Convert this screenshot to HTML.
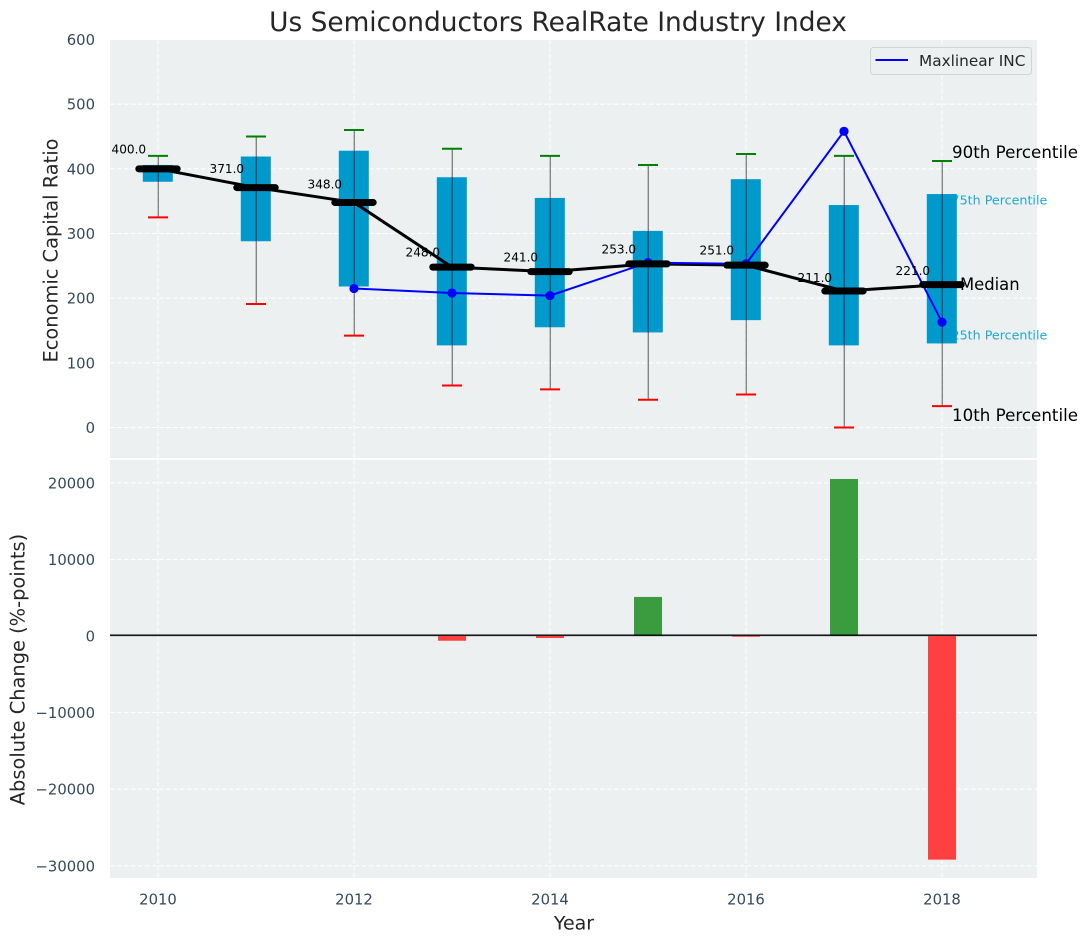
<!DOCTYPE html>
<html><head><meta charset="utf-8">
<style>
html,body{margin:0;padding:0;background:#fff;}
svg{display:block;font-family:"DejaVu Sans","Liberation Sans",sans-serif;}
</style></head>
<body>
<svg id="chart" xmlns="http://www.w3.org/2000/svg" width="1087" height="942" viewBox="0 0 1087 942">
<text x="558" y="31" font-size="26.4" fill="#262626" text-anchor="middle">Us Semiconductors RealRate Industry Index</text>
<rect x="110" y="40" width="927" height="418" fill="#ecf0f1"/>
<rect x="110" y="460" width="927" height="418" fill="#ecf0f1"/>
<text transform="translate(57.5,250.5) rotate(-90)" font-size="19.4" fill="#262626" text-anchor="middle">Economic Capital Ratio</text>
<text transform="translate(24.5,669.5) rotate(-90)" font-size="19.4" fill="#262626" text-anchor="middle">Absolute Change (%-points)</text>
<text x="574" y="929.5" font-size="19" fill="#262626" text-anchor="middle">Year</text>
<g id="grid"></g>
<g id="ticks"></g>
<text x="951.5" y="204.5" font-size="12.7" fill="#0099cc" fill-opacity="0.85">75th Percentile</text>
<text x="951.5" y="339.5" font-size="12.7" fill="#0099cc" fill-opacity="0.85">25th Percentile</text>
<g id="boxes"></g>
<g id="whiskers"></g>
<g id="trend"></g>
<g id="company"></g>
<g id="medians"></g>
<g id="valueLabels"></g>
<line x1="110" x2="1037" y1="635.7" y2="635.7" stroke="#c2c8cb" stroke-width="2.2"/>
<g id="bars"></g>
<line x1="110" x2="1037" y1="635.2" y2="635.2" stroke="#000" stroke-width="1.3"/>
<text x="952" y="158" font-size="16.7" fill="#000">90th Percentile</text>
<text x="960" y="290" font-size="16.4" fill="#000">Median</text>
<text x="952" y="421" font-size="16.7" fill="#000">10th Percentile</text>
<g>
<rect x="870.5" y="47.5" width="161" height="27" rx="3" fill="#ecf0f1" fill-opacity="0.8" stroke="#cccccc" stroke-opacity="0.8"/>
<line x1="875.5" x2="908" y1="60" y2="60" stroke="#0000ff" stroke-width="2"/>
<text x="919" y="66" font-size="15.3" fill="#262626">Maxlinear INC</text>
</g>
</svg>
<script>
const years = [2010, 2011, 2012, 2013, 2014, 2015, 2016, 2017, 2018];
const p90 = [420, 450, 460, 431, 420, 406, 423, 420, 412];
const p75 = [406, 419, 428, 387, 355, 304, 384, 344, 361];
const median = [400, 371, 348, 248, 241, 253, 251, 211, 221];
const p25 = [380, 288, 218, 127, 155, 147, 166, 127, 130];
const p10 = [325, 191, 142, 65, 59, 43, 51, 0, 33];
const maxlinear = [null, null, 215, 208, 204, 255, 253, 458, 163];
const changes = [0, 0, 0, -620, -260, 5100, -100, 20500, -29200];
const upperTicks = [0, 100, 200, 300, 400, 500, 600];
const lowerTicks = [-30000, -20000, -10000, 0, 10000, 20000];
const xTicks = [2010, 2012, 2014, 2016, 2018];

const NS = 'http://www.w3.org/2000/svg';
const xScale = function (year) { return 158 + (year - 2010) * 98; };
const yUpper = function (v) { return 427.5 - v * 0.6467; };
const yLower = function (v) { return 636 - v * 0.00766; };
const fmt = function (v) { return (v < 0 ? '\u2212' : '') + Math.abs(v); };

function make(parent, tag, props, text) {
  const el = document.createElementNS(NS, tag);
  Object.keys(props).forEach(function (k) { el.setAttribute(k, props[k]); });
  if (text !== undefined) el.textContent = text;
  document.getElementById(parent).appendChild(el);
  return el;
}

const gridStyle = { stroke: '#ffffff', 'stroke-width': 1.1, 'stroke-dasharray': '4.5 2.5' };
const tickColor = '#34495e';

xTicks.forEach(function (t) {
  const x = xScale(t);
  [[40, 458], [460, 878]].forEach(function (span) {
    const g = make('grid', 'line', Object.assign({ x1: x, x2: x, y1: span[0], y2: span[1] }, gridStyle));
    
    
  });
  const lbl = make('ticks', 'text', { x: x, y: 904.5, 'font-size': 14.8, fill: tickColor, 'text-anchor': 'middle' }, String(t));
  
  
});

upperTicks.forEach(function (t) {
  const y = yUpper(t);
  const g = make('grid', 'line', Object.assign({ x1: 110, x2: 1037, y1: y, y2: y }, gridStyle));
  
  
  const lbl = make('ticks', 'text', { x: 95, y: y + 5.5, 'font-size': 14.8, fill: tickColor, 'text-anchor': 'end' }, fmt(t));
  
  
});

lowerTicks.forEach(function (t) {
  const y = yLower(t);
  const g = make('grid', 'line', Object.assign({ x1: 110, x2: 1037, y1: y, y2: y }, gridStyle));
  
  
  const lbl = make('ticks', 'text', { x: 95, y: y + 5.5, 'font-size': 14.8, fill: tickColor, 'text-anchor': 'end' }, fmt(t));
  
  
});

years.forEach(function (year, i) {
  const x = xScale(year);
  const top = yUpper(p75[i]);
  const box = make('boxes', 'rect', { x: x - 15.2, y: top, width: 30, height: yUpper(p25[i]) - top, fill: '#0099cc' });
  
  

  const whisker = make('whiskers', 'line', { x1: x + 0.3, x2: x + 0.3, y1: yUpper(p90[i]), y2: yUpper(p10[i]), stroke: '#000', 'stroke-opacity': 0.45, 'stroke-width': 1.4 });
  
  

  const capHigh = make('whiskers', 'line', { x1: x - 10, x2: x + 10, y1: yUpper(p90[i]), y2: yUpper(p90[i]), stroke: '#008000', 'stroke-width': 2 });
  
  

  const capLow = make('whiskers', 'line', { x1: x - 10, x2: x + 10, y1: yUpper(p10[i]), y2: yUpper(p10[i]), stroke: '#ff0000', 'stroke-width': 2 });
  
  

  const med = make('medians', 'line', { x1: x - 19.2, x2: x + 19.2, y1: yUpper(median[i]), y2: yUpper(median[i]), stroke: '#000', 'stroke-width': 7, 'stroke-linecap': 'round' });
  
  

  const labelGap = 15 + (median[i] - 250) * 0.033;
  const val = make('valueLabels', 'text', { x: x - 46.5, y: yUpper(median[i]) - labelGap + 4.5, 'font-size': 12.1, fill: '#000' }, median[i].toFixed(1));
  
  

  if (changes[i] !== 0) {
    const y0 = yLower(0);
    const y1 = yLower(changes[i]);
    const bar = make('bars', 'rect', { x: x - 14, y: Math.min(y0, y1), width: 28, height: Math.abs(y1 - y0), fill: changes[i] > 0 ? '#3a9c3f' : '#ff4040' });
    
    
  }
});

const trend = make('trend', 'polyline', {
  points: years.map(function (y, i) { return xScale(y) + ',' + yUpper(median[i]); }).join(' '),
  fill: 'none', stroke: '#000', 'stroke-width': 3, 'stroke-linejoin': 'round'
});



const pts = [];
years.forEach(function (y, i) {
  if (maxlinear[i] !== null) pts.push([xScale(y), yUpper(maxlinear[i])]);
});
const mlLine = make('company', 'polyline', {
  points: pts.map(function (p) { return p[0] + ',' + p[1]; }).join(' '),
  fill: 'none', stroke: '#0000ff', 'stroke-width': 2
});


pts.forEach(function (p) {
  const dot = make('company', 'circle', { cx: p[0], cy: p[1], r: 4.6, fill: '#0000ff' });
  
  
});
</script>
</body></html>
